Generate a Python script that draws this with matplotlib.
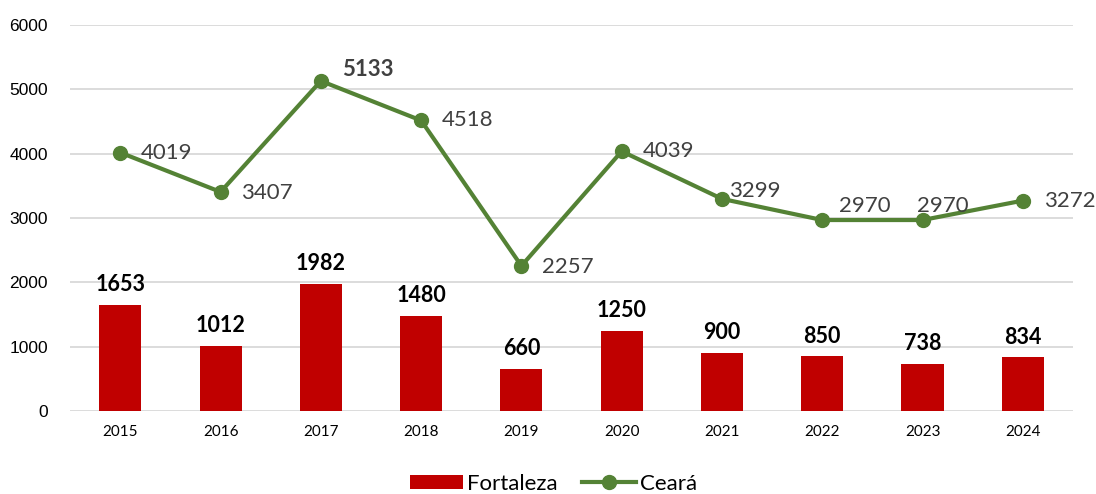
import matplotlib
matplotlib.use("Agg")
import matplotlib.pyplot as plt
import numpy as np

years = ["2015", "2016", "2017", "2018", "2019", "2020", "2021", "2022", "2023", "2024"]
fortaleza = [1653, 1012, 1982, 1480, 660, 1250, 900, 850, 738, 834]
ceara = [4019, 3407, 5133, 4518, 2257, 4039, 3299, 2970, 2970, 3272]

# label offsets (points) for the Ceará labels, relative to each marker
label_dx = [15, 15, 15, 15, 15, 15, 5, 12, -4, 15]
label_dy = [0, -1, 8, 0, -1, 0, 6, 10, 10, 0]

fig = plt.figure(figsize=(10.96, 4.94), dpi=100)
ax = fig.add_axes([0.064, 0.168, 0.915, 0.781])
x = np.arange(len(years))

b = ax.bar(x, fortaleza, width=0.42, color="#C00000", label="Fortaleza", zorder=2)
ln, = ax.plot(x, ceara, color="#548235", lw=3, marker="o", markersize=10, label="Ceará", zorder=3)

for xi, v in zip(x, fortaleza):
    ax.annotate(str(v), (xi, v), xytext=(0, 7), textcoords="offset points",
                ha="center", va="bottom", fontsize=15.5, fontweight="bold",
                family="Lato", color="black")
for i, (xi, v) in enumerate(zip(x, ceara)):
    bold = (v == max(ceara))
    ax.annotate(str(v), (xi, v), xytext=(label_dx[i], label_dy[i]), textcoords="offset points",
                ha="left", va="center", fontsize=16,
                fontweight="bold" if bold else "normal",
                family="Lato", color="#404040", zorder=4)

ax.set_ylim(0, 6000)
ax.set_xlim(-0.5, len(years) - 0.5)
ax.set_yticks(range(0, 6001, 1000))
ax.set_xticks(x)
ax.set_xticklabels(years, family="Lato", fontsize=11)
ax.tick_params(axis="y", labelsize=12.5, length=0, pad=16)
for t in ax.get_yticklabels():
    t.set_family("Liberation Sans")
ax.tick_params(axis="x", length=0, pad=10)
ax.grid(axis="y", color="#d9d9d9", lw=1.3, zorder=0)
ax.set_axisbelow(True)
for s in ax.spines.values():
    s.set_visible(False)

leg = fig.legend(handles=[b, ln], labels=["Fortaleza", "Ceará"],
                 loc="lower center", bbox_to_anchor=(0.505, -0.04), ncol=2, frameon=False,
                 prop={"family": "Lato", "size": 16}, handlelength=2.4, columnspacing=1.1,
                 handletextpad=0.2, handleheight=0.55)
fig.savefig("out.png", dpi=100)
